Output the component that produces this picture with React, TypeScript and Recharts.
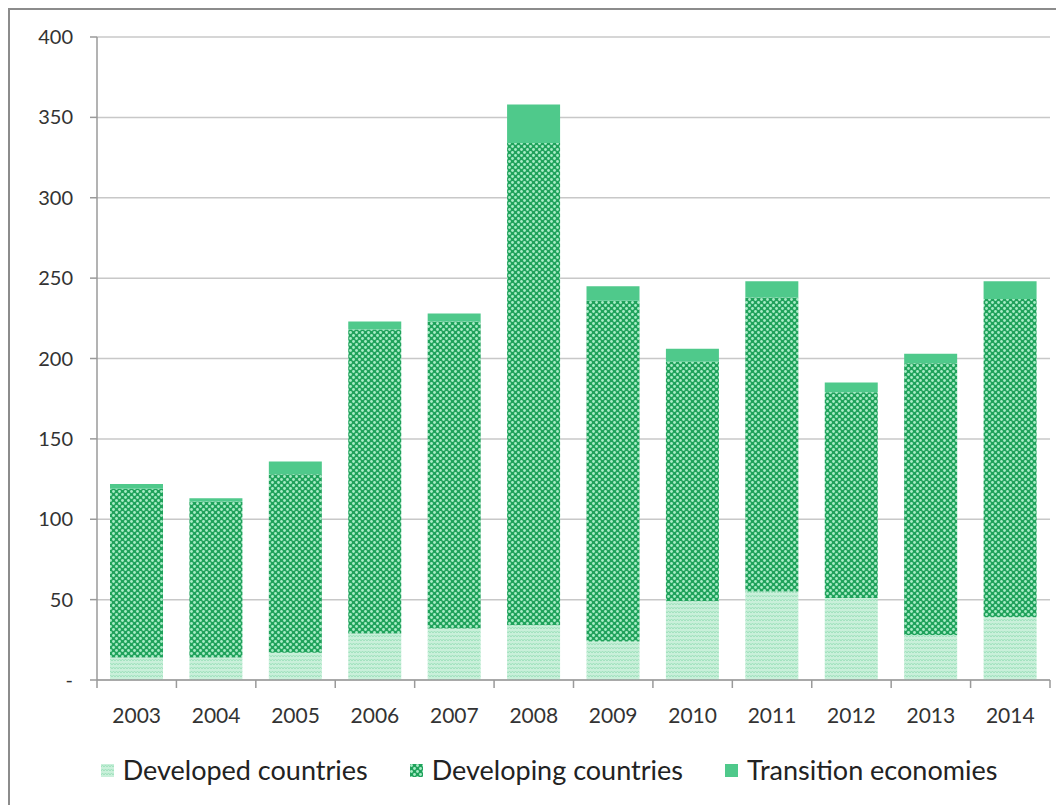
import React from 'react';
import { BarChart, Bar, XAxis, YAxis, CartesianGrid, Legend } from 'recharts';

const years = ['2003', '2004', '2005', '2006', '2007', '2008', '2009', '2010', '2011', '2012', '2013', '2014'];
const developed = [14, 14, 17, 29, 32, 34, 24, 49, 55, 51, 28, 39];
const developing = [105, 97, 111, 189, 191, 300, 212, 149, 183, 128, 169, 198];
const transition = [3, 2, 8, 5, 5, 24, 9, 8, 10, 6, 6, 11];
const yTicks = [0, 50, 100, 150, 200, 250, 300, 350, 400];

const series = [
  { key: 'developed', name: 'Developed countries', fill: 'url(#patDeveloped)' },
  { key: 'developing', name: 'Developing countries', fill: 'url(#patDeveloping)' },
  { key: 'transition', name: 'Transition economies', fill: '#4fc98b' },
];

const data = years.map((year, i) => ({
  year,
  developed: developed[i],
  developing: developing[i],
  transition: transition[i],
}));

const FONT = 'Lato, "Open Sans", sans-serif';

const XTick = (props: any) => {
  const { x, y, payload, index } = props;
  const off = payload && payload.offset ? payload.offset : 39.7;
  return (
    <g>
      <line x1={x - off} x2={x - off} y1={y} y2={y + 8} stroke="#9a9a9a" strokeWidth={1.5} />
      {index === years.length - 1 && (
        <line x1={x + off} x2={x + off} y1={y} y2={y + 8} stroke="#9a9a9a" strokeWidth={1.5} />
      )}
      <text x={x} y={y + 43} textAnchor="middle" fill="#333" fontSize={21} fontFamily={FONT}>
        {payload.value}
      </text>
    </g>
  );
};

const LegendIcon = ({ fill }: { fill: string }) => (
  <svg width={13} height={13} style={{ marginRight: 9 }}>
    <rect x={0} y={0} width={13} height={13} fill={fill} />
  </svg>
);

const renderLegend = () => (
  <div
    style={{
      display: 'flex',
      justifyContent: 'center',
      alignItems: 'center',
      paddingLeft: 26,
      fontFamily: FONT,
      fontSize: 27,
      lineHeight: '30px',
      color: '#222',
    }}
  >
    {series.map((s) => (
      <div key={s.key} style={{ display: 'flex', alignItems: 'center', margin: '0 21px' }}>
        <LegendIcon fill={s.fill} />
        <span>{s.name}</span>
      </div>
    ))}
  </div>
);

export default function App() {
  return (
    <div style={{ width: 1060, height: 800, border: '2px solid #8c8c8c', boxSizing: 'border-box', background: '#fff' }}>
      <BarChart
        width={1052}
        height={792}
        data={data}
        margin={{ top: 27, right: 12, bottom: 52, left: 27 }}
        barSize={53}
      >
        <defs>
          <pattern id="patDeveloped" width={6} height={4} patternUnits="userSpaceOnUse">
            <rect width={6} height={4} fill="#c9f0da" />
            <path d="M0 3 L1.5 1 L3 3 L4.5 1 L6 3" stroke="#9fe2bd" strokeWidth={1} fill="none" />
          </pattern>
          <pattern id="patDeveloping" width={6} height={6} patternUnits="userSpaceOnUse">
            <rect width={6} height={6} fill="#1fa25b" />
            <circle cx={1.5} cy={1.5} r={1.4} fill="#a8ecc6" />
            <circle cx={4.5} cy={4.5} r={1.4} fill="#a8ecc6" />
          </pattern>
        </defs>
        <CartesianGrid vertical={false} stroke="#c8c8c8" strokeWidth={1.5} />
        <XAxis
          dataKey="year"
          axisLine={{ stroke: '#9a9a9a', strokeWidth: 1.5 }}
          tickLine={false}
          tickSize={0}
          tickMargin={0}
          tick={<XTick />}
          interval={0}
          height={40}
        />
        <YAxis
          domain={[0, 400]}
          ticks={yTicks}
          width={60}
          axisLine={{ stroke: '#9a9a9a', strokeWidth: 1.5 }}
          tickLine={{ stroke: '#9a9a9a', strokeWidth: 1.5 }}
          tickSize={7}
          tickMargin={17}
          tickFormatter={(v: number) => (v === 0 ? '-' : String(v))}
          tick={{ fill: '#333', fontSize: 20, fontFamily: FONT }}
        />
        <Legend content={renderLegend} wrapperStyle={{ left: 0, top: 745, width: 1052 }} />
        {series.map((s) => (
          <Bar key={s.key} dataKey={s.key} name={s.name} stackId="a" fill={s.fill} isAnimationActive={false} />
        ))}
      </BarChart>
    </div>
  );
}
